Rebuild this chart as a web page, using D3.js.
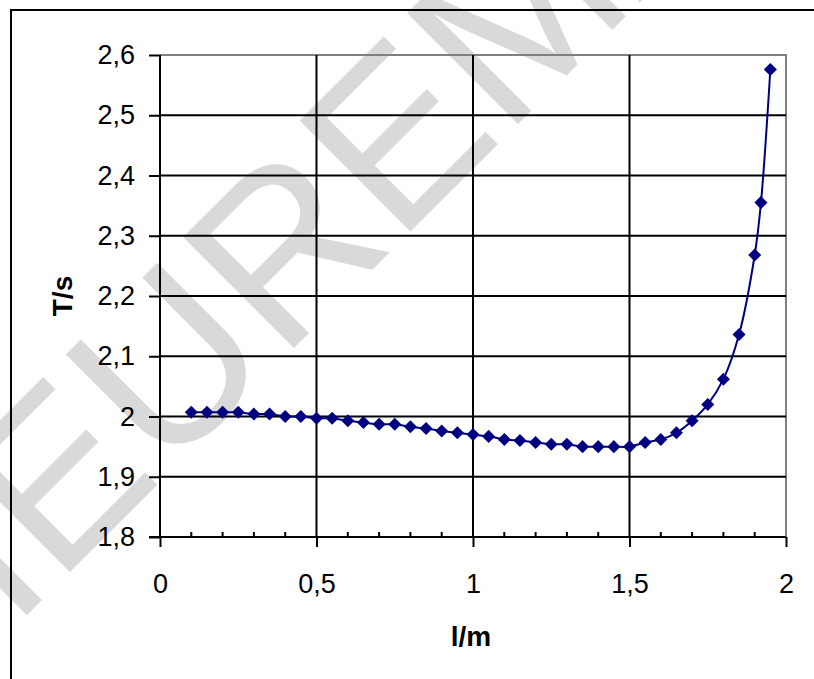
<!DOCTYPE html>
<html>
<head>
<meta charset="utf-8">
<script src="https://cdn.jsdelivr.net/npm/d3@7"></script>
<style>
  body { margin: 0; background: #fff; }
  svg { display: block; }
</style>
</head>
<body>
<svg id="chart"></svg>
<script>
// pendulum length (m) and measured period (s)
const lengths = [0.1, 0.15, 0.2, 0.25, 0.3, 0.35, 0.4, 0.45, 0.5, 0.55, 0.6, 0.65, 0.7, 0.75,
  0.8, 0.85, 0.9, 0.95, 1.0, 1.05, 1.1, 1.15, 1.2, 1.25, 1.3, 1.35, 1.4, 1.45, 1.5, 1.55,
  1.6, 1.65, 1.7, 1.75, 1.8, 1.85, 1.9, 1.92, 1.95];
const periods = [2.007, 2.007, 2.007, 2.007, 2.004, 2.004, 2.000, 2.000, 1.997, 1.997, 1.993, 1.990, 1.987, 1.987,
  1.983, 1.980, 1.976, 1.973, 1.970, 1.967, 1.962, 1.960, 1.957, 1.954, 1.954, 1.950, 1.950, 1.950, 1.950, 1.957,
  1.962, 1.973, 1.993, 2.020, 2.062, 2.136, 2.268, 2.355, 2.576];

const xTicks = [0, 0.5, 1, 1.5, 2];
const xMinorTicks = [0.1, 0.2, 0.3, 0.4, 0.6, 0.7, 0.8, 0.9, 1.1, 1.2, 1.3, 1.4, 1.6, 1.7, 1.8, 1.9];
const yTicks = [1.8, 1.9, 2.0, 2.1, 2.2, 2.3, 2.4, 2.5, 2.6];
const xTitle = "l/m";
const yTitle = "T/s";
const watermark = "IEUREMA";

const width = 814, height = 679;
const margin = { top: 55, right: 28, bottom: 142, left: 160 };

const locale = d3.formatLocale({ decimal: ",", thousands: ".", grouping: [3], currency: ["", ""] });
const fmt = locale.format(".1~f");

const svg = d3.select("#chart").attr("width", width).attr("height", height)
  .style("font-family", "'Liberation Sans', Arial, sans-serif");

svg.append("rect").attr("width", width).attr("height", height).attr("fill", "#fff");

// watermark sits behind everything
svg.append("text")
  .attr("transform", "translate(12,630) rotate(-45)")
  .attr("font-size", 228)
  .attr("fill", "#d9d9d9")
  .text(watermark);

// outer frame (runs off the right and bottom edges)
svg.append("rect")
  .attr("x", 11).attr("y", 10).attr("width", 900).attr("height", 900)
  .attr("fill", "none").attr("stroke", "#000").attr("stroke-width", 2);

const x = d3.scaleLinear().domain([0, 2]).range([0, 626]);
const y = d3.scaleLinear().domain([1.8, 2.6]).range([482, 0]);

const g = svg.append("g").attr("transform", `translate(${margin.left},${margin.top})`);

// plot area border: grey top and right
g.append("path")
  .attr("d", `M0,${y(2.6)}H${x(2)}V${y(1.8)}`)
  .attr("fill", "none").attr("stroke", "#808080").attr("stroke-width", 2);

// gridlines
g.selectAll(".hgrid").data(yTicks.filter(v => v < 2.55 && v > 1.85)).join("line")
  .attr("x1", 0).attr("x2", x(2))
  .attr("y1", d => y(d)).attr("y2", d => y(d))
  .attr("stroke", "#000").attr("stroke-width", 2);
g.selectAll(".vgrid").data(xTicks.filter(v => v > 0 && v < 2)).join("line")
  .attr("x1", d => x(d)).attr("x2", d => x(d))
  .attr("y1", y(2.6)).attr("y2", y(1.8))
  .attr("stroke", "#000").attr("stroke-width", 2);

// axes
const yAxis = g.append("g")
  .call(d3.axisLeft(y).tickValues(yTicks).tickSize(11).tickPadding(14).tickFormat(fmt));
const xAxis = g.append("g").attr("transform", `translate(0,${y(1.8)})`)
  .call(d3.axisBottom(x).tickValues(xTicks).tickSize(10).tickPadding(27).tickFormat(fmt));

[xAxis, yAxis].forEach(a => {
  a.select(".domain").attr("stroke", "#000").attr("stroke-width", 2);
  a.selectAll(".tick line").attr("stroke", "#000").attr("stroke-width", 2);
  a.selectAll(".tick text").attr("font-size", 27).attr("fill", "#000")
    .style("font-family", "'Liberation Sans', Arial, sans-serif");
});
yAxis.select(".domain").attr("d", `M0,${y(2.6)}V${y(1.8)}`);
xAxis.select(".domain").attr("d", `M${x(0) - 11},0H${x(2)}`);

// small inside ticks on the x axis
g.selectAll(".minor").data(xMinorTicks).join("line")
  .attr("x1", d => x(d)).attr("x2", d => x(d))
  .attr("y1", y(1.8)).attr("y2", y(1.8) - 5)
  .attr("stroke", "#000").attr("stroke-width", 2);

// series
const pts = lengths.map((l, i) => [l, periods[i]]);
g.append("path")
  .datum(pts)
  .attr("fill", "none").attr("stroke", "#000080").attr("stroke-width", 2)
  .attr("d", d3.line().x(d => x(d[0])).y(d => y(d[1])).curve(d3.curveCatmullRom.alpha(0.5)));

g.selectAll(".pt").data(pts).join("path")
  .attr("transform", d => `translate(${x(d[0])},${y(d[1])}) rotate(45)`)
  .attr("d", d3.symbol(d3.symbolSquare, 85))
  .attr("fill", "#000080");

// titles
svg.append("text")
  .attr("x", 471).attr("y", 646)
  .attr("text-anchor", "middle")
  .attr("font-size", 28).attr("font-weight", "bold")
  .text(xTitle);
svg.append("text")
  .attr("transform", "translate(72,296) rotate(-90)")
  .attr("text-anchor", "middle")
  .attr("font-size", 28).attr("font-weight", "bold")
  .text(yTitle);
</script>
</body>
</html>
